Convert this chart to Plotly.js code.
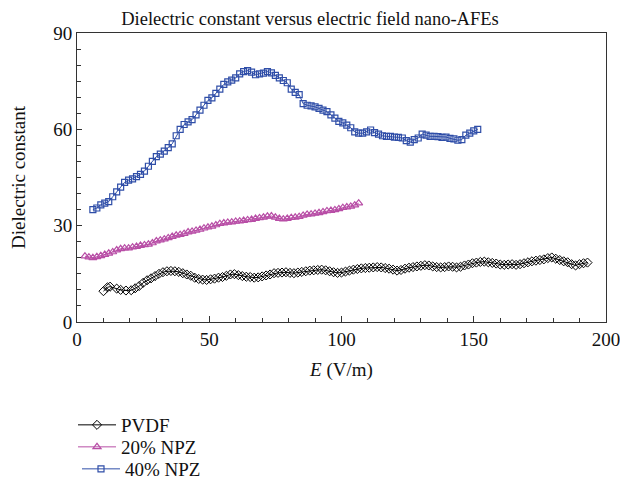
<!DOCTYPE html>
<html>
<head>
<meta charset="utf-8">
<script src="https://cdn.plot.ly/plotly-3.0.1.min.js"></script>
<style>html,body{margin:0;padding:0;background:#fff;}#chart{width:620px;height:487px;}</style>
</head>
<body>
<div id="chart"></div>
<script>
// PVDF
const pvdfX = [10,11.5,12.5,15,16.5,18.5,20.5,
22,23.5,25,26.5,28,29.5,31,32.5,34,35.5,37,38.5,40,41.5,43,44.5,46,47.5,49,50.5,52,53.5,55,56.5,58,59.5,61,62.5,64,65.5,67,68.5,70,71.5,73,74.5,76,77.5,79,80.5,82,83.5,85,86.5,88,89.5,91,92.5,94,95.5,97,98.5,100,101.5,103,104.5,106,107.5,109,110.5,112,113.5,115,116.5,118,119.5,121,122.5,124,125.5,127,128.5,130,131.5,133,134.5,136,137.5,139,140.5,142,143.5,145,146.5,148,149.5,151,152.5,154,155.5,157,158.5,160,161.5,163,164.5,166,167.5,169,170.5,172,173.5,175,176.5,178,179.5,181,182.5,184,185.5,187,188.5,190,191.5,193];
const pvdfY = [9.6,10.8,11.0,10.4,10.0,9.8,9.9,
10.5,11.2,12.2,13.0,13.6,14.3,15.0,15.5,15.8,15.9,15.8,15.6,15.2,14.8,14.4,13.8,13.4,13.2,13.1,13.3,13.5,13.8,14.0,14.4,14.8,14.9,14.6,14.3,14.1,14.0,13.8,13.9,14.2,14.5,14.8,15.2,15.3,15.4,15.5,15.3,15.2,15.4,15.6,15.8,16.0,16.1,16.2,16.3,16.1,15.8,15.5,15.3,15.4,15.7,16.0,16.3,16.5,16.7,16.8,16.9,17.0,17.1,17.0,16.8,16.6,16.3,16.0,16.2,16.6,16.9,17.1,17.3,17.5,17.7,17.6,17.3,17.1,17.0,17.1,17.3,17.2,17.0,17.2,17.6,17.9,18.3,18.5,18.7,18.8,18.6,18.4,18.2,17.9,17.8,17.9,18.0,17.8,18.0,18.3,18.6,18.9,19.1,19.3,19.5,19.9,20.1,19.7,19.3,18.9,18.6,18.0,17.6,18.0,18.3,18.5];

// 20% NPZ
const npz20X = [3,4.5,6,7.5,9,10.5,12,13.5,15,16.5,18,19.5,21,22.5,24,25.5,27,28.5,30,31.5,33,34.5,36,37.5,39,40.5,42,43.5,45,46.5,48,49.5,51,52.5,54,55.5,57,58.5,60,61.5,63,64.5,66,67.5,69,70.5,72,73.5,75,76.5,78,79.5,81,82.5,84,85.5,87,88.5,90,91.5,93,94.5,96,97.5,99,100.5,102,103.5,105,106.5];
const npz20Y = [20.5,20.2,20.0,20.3,20.6,21.0,21.4,21.8,22.4,22.8,23.0,23.0,23.3,23.5,23.8,24.0,24.2,24.6,25.2,25.5,25.8,26.2,26.6,27.0,27.2,27.5,28.0,28.2,28.5,28.8,29.2,29.5,29.8,30.2,30.6,30.8,31.0,31.1,31.3,31.4,31.6,31.8,31.9,32.2,32.4,32.6,32.9,33.0,32.6,32.2,32.0,32.2,32.5,32.6,32.8,33.2,33.5,33.6,33.8,34.0,34.3,34.6,34.7,34.9,35.2,35.6,35.8,36.0,36.4,37.0];

// 40% NPZ
const npz40X = [6,7.5,9,10.5,12,13.5,15,16.5,18,19.5,21,22.5,24,25.5,27,28.5,30,31.5,33,34.5,36,37.5,39,40.5,42,43.5,45,46.5,48,49.5,51,52.5,54,55.5,57,58.5,60,61.5,63,64.5,66,67.5,69,70.5,72,73.5,75,76.5,78,79.5,81,82.5,84,85.5,87,88.5,90,91.5,93,94.5,96,97.5,99,100.5,102,103.5,105,106.5,108,109.5,111,112.5,114,115.5,117,118.5,120,121.5,123,124.5,126,127.5,129,130.5,132,133.5,135,136.5,138,139.5,141,142.5,144,145.5,147,148.5,150,151.5];
const npz40Y = [35.0,35.5,36.5,37.0,37.5,39.0,40.5,42.0,43.5,44.2,44.6,45.3,46.0,47.0,48.5,50.0,51.5,52.3,53.2,54.3,55.5,58.0,60.0,61.5,62.3,63.0,64.5,66.0,67.5,69.0,69.8,71.2,72.5,74.0,74.8,75.3,76.0,77.3,78.0,78.3,77.8,77.0,77.3,77.5,78.0,77.6,76.8,76.0,75.2,74.5,72.5,71.5,70.8,68.0,67.5,67.3,67.0,66.5,66.0,65.5,64.5,63.5,62.5,62.0,61.3,60.5,59.2,58.8,58.8,59.2,59.8,59.0,58.5,58.0,57.8,57.8,57.6,57.5,57.3,56.5,56.0,56.8,57.3,58.5,58.2,57.8,57.8,57.7,57.5,57.6,57.2,57.0,56.6,56.8,58.2,58.8,59.5,60.0];

const seriesNames = ['PVDF', '20% NPZ', '40% NPZ'];
const titleText = 'Dielectric constant versus electric field nano-AFEs';
const xTitle = '<i>E</i> (V/m)';
const yTitle = 'Dielectric constant';

const FONT = "'Liberation Serif', 'DejaVu Serif', serif";

const traces = [
  {x: pvdfX, y: pvdfY, name: seriesNames[0], type: 'scatter', mode: 'lines+markers', legend: 'legend',
   line: {color: '#000000', width: 1},
   marker: {symbol: 'diamond-open', size: 7, color: '#000000', line: {width: 1, color: '#000000'}}},
  {x: npz20X, y: npz20Y, name: seriesNames[1], type: 'scatter', mode: 'lines+markers', legend: 'legend2',
   line: {color: '#b84ea6', width: 1},
   marker: {symbol: 'triangle-up-open', size: 7, color: '#b84ea6', line: {width: 1.2, color: '#b84ea6'}}},
  {x: npz40X, y: npz40Y, name: seriesNames[2], type: 'scatter', mode: 'lines+markers', legend: 'legend3',
   line: {color: '#2f4ea8', width: 1},
   marker: {symbol: 'square-open', size: 6, color: '#2f4ea8', line: {width: 1.2, color: '#2f4ea8'}}}
];

// plot area spans x 77..606 px
function leg(xpx, ypx) {
  return {x: (xpx - 77) / 529, xref: 'paper', xanchor: 'left', y: 1 - ypx / 487, yref: 'container', yanchor: 'middle',
          bgcolor: 'rgba(0,0,0,0)', font: {family: FONT, size: 19, color: '#111'}, itemwidth: 38, borderwidth: 0};
}

const layout = {
  width: 620, height: 487,
  margin: {l: 77, r: 14, t: 33, b: 165},
  paper_bgcolor: '#ffffff', plot_bgcolor: '#ffffff',
  font: {family: FONT, size: 19, color: '#111'},
  title: {text: titleText, x: 0.5, xref: 'container', xanchor: 'center', y: 0.975, yanchor: 'top', font: {family: FONT, size: 18.5, color: '#111'}},
  showlegend: true,
  legend: leg(73, 425),
  legend2: leg(73, 447),
  legend3: leg(77, 469),
  xaxis: {
    range: [0, 200], dtick: 50, tick0: 0,
    showgrid: false, zeroline: false,
    showline: true, linecolor: '#333', linewidth: 1, mirror: true,
    ticks: 'inside', ticklen: 6, tickcolor: '#333', tickwidth: 1,
    ticklabeloverflow: 'allow', automargin: false,
    minor: {dtick: 10, ticks: 'inside', ticklen: 4, tickcolor: '#333', showgrid: false},
    tickfont: {family: FONT, size: 19, color: '#111'},
    title: {text: xTitle, font: {family: FONT, size: 19, color: '#111'}, standoff: 13}
  },
  yaxis: {
    range: [0, 90], dtick: 30, tick0: 0,
    showgrid: false, zeroline: false,
    showline: true, linecolor: '#333', linewidth: 1, mirror: true,
    ticks: 'inside', ticklen: 5, tickcolor: '#333', tickwidth: 1,
    automargin: false,
    minor: {dtick: 5, ticks: 'inside', ticklen: 4, tickcolor: '#333', showgrid: false},
    tickfont: {family: FONT, size: 19, color: '#111'},
    title: {text: yTitle, font: {family: FONT, size: 19, color: '#111'}, standoff: 22}
  }
};

Plotly.newPlot('chart', traces, layout, {displayModeBar: false, staticPlot: true});
</script>
</body>
</html>
